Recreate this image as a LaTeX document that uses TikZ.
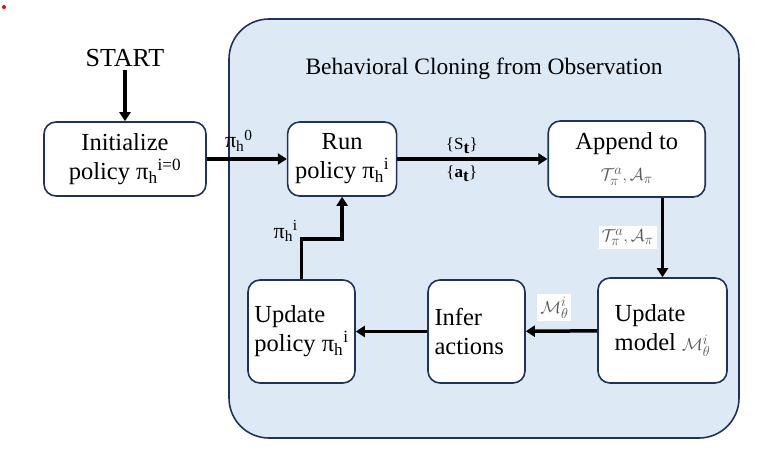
\documentclass[tikz,border=0pt]{standalone}
\usepackage{fontspec}
\setmainfont{Liberation Serif}
\usetikzlibrary{shapes, positioning, arrows.meta, calc}
\definecolor{c1}{RGB}{222,233,246}
\definecolor{drawColor}{RGB}{31,50,90}
\colorlet{mathColor}{black!65}
\tikzstyle{box}=[draw=drawColor, line width=1.6pt, rounded corners=12pt, fill=white, font=\fontsize{24.5}{29}\selectfont]
\tikzstyle{arrow}=[-{Triangle[length=9pt,width=11pt]}, line width=3.5pt, draw=black]
\tikzstyle{lbl}=[font=\fontsize{22}{24}\selectfont, inner sep=2pt]
\tikzstyle{slbl}=[font=\fontsize{17}{18}\selectfont, inner sep=2pt]
\tikzstyle{mlbl}=[fill=white, text=mathColor, inner sep=3pt, font=\fontsize{19}{22}\selectfont]

\begin{document}
\begin{tikzpicture}[x=1pt, y=-1pt]
      \useasboundingbox (0,0) rectangle (773,457);
      \fill [red] (4,7) circle (2pt);
      \node (bco) [draw=drawColor, line width=1.6pt, fill=c1, rounded corners=40pt, minimum width=510pt, minimum height=419pt] at (484,228.5) {};
      \node (title) [font=\fontsize{23.5}{26}\selectfont, below=51pt of bco.north, anchor=center] {Behavioral Cloning from Observation};
      \node (start) [font=\fontsize{26}{28}\selectfont] at (125,58) {START};
      \node (init) [box, minimum width=162pt, minimum height=74pt, align=center] at (125,159) {Initialize\\policy π\textsubscript{h}\textsuperscript{i=0}};
      \node (run) [box, minimum width=109pt, minimum height=74pt, align=center, inner xsep=1pt, right=80pt of init] {Run\\policy π\textsubscript{h}\textsuperscript{i}};
      \node (append) [box, minimum width=157pt, minimum height=76pt, align=center, right=150pt of run] {Append to\\[2pt]{\color{mathColor}\fontsize{19}{22}\selectfont$\mathcal{T}^a_\pi,\mathcal{A}_\pi$}};
      \node (upmodel) [box, minimum width=129pt, minimum height=105pt, align=left] at (662.5,330.5) {Update\\model {\color{mathColor}\fontsize{19}{22}\selectfont$\mathcal{M}^i_\theta$}};
      \node (infer) [box, minimum width=97pt, minimum height=103pt, align=left, text width=84pt] at (476.5,331.5) {Infer\\actions};
      \node (uppolicy) [box, minimum width=107pt, minimum height=103pt, align=left, inner xsep=2pt] at (301.5,331.5) {Update\\policy π\textsubscript{h}\textsuperscript{i}};
      \draw [arrow] (start) -- (init);
      \draw [arrow] (init) -- node [lbl, above, pos=0.4, yshift=4pt] {π\textsubscript{h}\textsuperscript{0}} (run);
      \draw [arrow] (run.east) -- node [slbl, above, pos=0.43, yshift=2pt] {\{S$_{\textbf{t}}$\}} node [slbl, below, pos=0.43, yshift=-3pt] {\{\textbf{a}$_{\textbf{t}}$\}} (append.west |- run.east);
      \draw [arrow] (append.south -| upmodel.north) -- node [mlbl, left, xshift=-4pt] {$\mathcal{T}^a_\pi,\mathcal{A}_\pi$} (upmodel.north);
      \draw [arrow] (upmodel) -- node [mlbl, above, pos=0.6, yshift=8pt] {$\mathcal{M}^i_\theta$} (infer);
      \draw [arrow] (infer) -- (uppolicy);
      \draw [arrow] (uppolicy.north) -- ++(0,-40) node [lbl, left, yshift=8pt] {π\textsubscript{h}\textsuperscript{i}} -| (run.south);
    \end{tikzpicture}
\end{document}
